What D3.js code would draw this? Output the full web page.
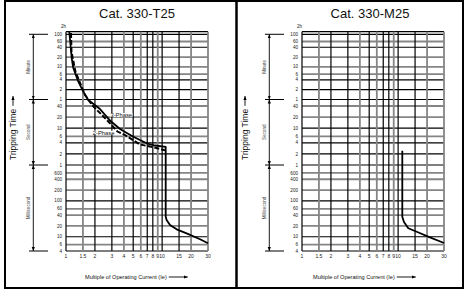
<!DOCTYPE html>
<html>
<head>
<meta charset="utf-8">
<script src="https://cdn.jsdelivr.net/npm/d3@7"></script>
<style>
  body { margin: 0; background: #fff; }
  svg { display: block; font-family: "Liberation Sans", Arial, sans-serif; }
</style>
</head>
<body>
<svg width="465" height="290"></svg>
<script>
var titles = ["Cat. 330-T25", "Cat. 330-M25"];

// multiple of operating current (Ie)
var xTicks = [1, 1.5, 2, 3, 4, 5, 6, 7, 8, 9, 10, 15, 20, 30];
var xTickLabels = ["1", "1.5", "2", "3", "4", "5", "6", "7", "8", "9", "10", "15", "20", "30"];
var xGray = [1.5, 4, 6, 9, 20, 30];

// tripping time, in seconds
var yTop = 7200, yTopLabel = "2h";
var yTicks = [6000, 3600, 2400, 1200, 600, 360, 240, 120, 60, 40, 20, 10, 6, 4, 2, 1,
              0.6, 0.4, 0.2, 0.1, 0.06, 0.04, 0.02, 0.01, 0.006, 0.004];
var yTickLabels = ["100", "60", "40", "20", "10", "6", "4", "2", "1", "40", "20", "10", "6", "4", "2", "1",
                   "600", "400", "200", "100", "60", "40", "20", "10", "6", "4"];
var yGray = [3600, 1200, 600, 360, 40, 20, 6, 0.6, 0.4, 0.2, 0.06, 0.04, 0.02, 0.006];

var sectionNames = ["Minute", "Second", "Millisecond"];
var sectionBounds = [6000, 60, 1, 0.004];

// Cat. 330-T25
var t25ThreeX = [1.082, 1.114, 1.146, 1.191, 1.343, 1.514, 1.706, 2.258, 2.905, 3.645, 5.01, 6.91, 8.42, 10.89,
                 10.89, 11.13, 12.08, 14.16, 17.98, 24.8, 30];
var t25ThreeY = [7200, 2813, 1124, 555, 211, 104, 58, 33, 15.6, 9.5, 5.86, 3.88, 3.38, 3.09,
                 0.0362, 0.0292, 0.0212, 0.0161, 0.01245, 0.00848, 0.00656];
var t25TwoX = [1.127, 1.141, 1.256, 1.432, 1.577, 1.887, 2.754, 3.43, 4.11, 5.89, 7.48, 10.46, 10.89];
var t25TwoY = [6568, 1718, 419, 166, 82, 41.2, 15.2, 8.1, 6.52, 3.6, 3.18, 2.55, 2.5];
var t25Labels = ["3-Phase", "2-Phase"];
var t25LabelX = [2.9, 1.9];
var t25LabelY = [22.7, 7.55];

// Cat. 330-M25
var m25X = [11.05, 11.05, 11.5, 12.76, 15.6, 21.4, 29.6, 30];
var m25Y = [2.44, 0.0362, 0.0257, 0.0172, 0.0138, 0.00964, 0.0068, 0.0067];

function pts(xs, ys) { return xs.map(function(d, i) { return [d, ys[i]]; }); }

var panels = [
  { title: titles[0], ox: 0, titleX: 137, tripX: 13, xTitleX: 85,
    solid: [pts(t25ThreeX, t25ThreeY)], dashed: [pts(t25TwoX, t25TwoY)],
    labels: t25Labels.map(function(d, i) { return { text: d, x: t25LabelX[i], y: t25LabelY[i] }; }) },
  { title: titles[1], ox: 236, titleX: 370, tripX: 245, xTitleX: 313,
    solid: [pts(m25X, m25Y)], dashed: [], labels: [] }
];

var svg = d3.select("svg");

svg.append("defs").append("marker")
    .attr("id", "ah")
    .attr("viewBox", "0 0 10 10")
    .attr("refX", 10).attr("refY", 5)
    .attr("markerWidth", 4).attr("markerHeight", 4)
    .attr("markerUnits", "userSpaceOnUse")
    .attr("orient", "auto-start-reverse")
  .append("path").attr("d", "M0,1L10,5L0,9Z").attr("fill", "#000");

// frame
svg.append("rect").attr("x", 5).attr("y", 1).attr("width", 458).attr("height", 287)
    .attr("fill", "none").attr("stroke", "#000").attr("stroke-width", 2);
svg.append("line").attr("x1", 236.5).attr("x2", 236.5).attr("y1", 1).attr("y2", 288)
    .attr("stroke", "#000").attr("stroke-width", 2.5);

panels.forEach(drawPanel);

function drawPanel(p) {
  var ox = p.ox;
  var g = svg.append("g");

  var x = d3.scaleLog().domain([1, 30]).range([66 + ox, 208 + ox]);
  // the printed time axis is log, but each unit band has its own spacing
  var y = d3.scaleLog().domain([yTop, 60, 1, 0.004]).range([31.7, 99.5, 165, 251]);

  g.append("text").attr("x", p.titleX).attr("y", 18).attr("text-anchor", "middle")
      .attr("font-size", 13).attr("fill", "#111").text(p.title);

  // grid
  g.selectAll(".hg").data([yTop].concat(yTicks)).enter().append("line")
      .attr("x1", x(1)).attr("x2", x(30))
      .attr("y1", function(d) { return y(d); }).attr("y2", function(d) { return y(d); })
      .attr("stroke", function(d) { return yGray.indexOf(d) >= 0 ? "#858585" : "#000"; })
      .attr("stroke-width", function(d) { return yGray.indexOf(d) >= 0 ? 1.8 : 1.2; });

  g.selectAll(".vg").data(xTicks).enter().append("line")
      .attr("y1", y(yTop)).attr("y2", y(0.004))
      .attr("x1", function(d) { return x(d); }).attr("x2", function(d) { return x(d); })
      .attr("stroke", function(d) { return xGray.indexOf(d) >= 0 ? "#858585" : "#000"; })
      .attr("stroke-width", function(d) { return xGray.indexOf(d) >= 0 ? 1.8 : 1.2; });

  // tick labels
  g.selectAll(".yl").data(yTicks).enter().append("text")
      .attr("x", x(1) - 4).attr("y", function(d) { return y(d) + 1.6; })
      .attr("text-anchor", "end").attr("font-size", 4.6).attr("fill", "#222")
      .text(function(d, i) { return yTickLabels[i]; });
  g.append("text").attr("x", x(1) - 2.5).attr("y", y(yTop) - 4)
      .attr("text-anchor", "middle").attr("font-size", 4.6).attr("fill", "#222").text(yTopLabel);

  g.selectAll(".xl").data(xTicks).enter().append("text")
      .attr("x", function(d) { return x(d); }).attr("y", 258)
      .attr("text-anchor", "middle").attr("font-size", 5).attr("fill", "#222")
      .text(function(d, i) { return xTickLabels[i]; });

  // unit brackets
  var bx = ox + 33.3;
  g.selectAll(".bt").data(sectionBounds).enter().append("line")
      .attr("x1", ox + 29).attr("x2", ox + 48)
      .attr("y1", function(d) { return y(d); }).attr("y2", function(d) { return y(d); })
      .attr("stroke", "#000").attr("stroke-width", 1);
  sectionNames.forEach(function(name, i) {
    var y0 = y(sectionBounds[i]), y1 = y(sectionBounds[i + 1]);
    g.append("line").attr("x1", bx).attr("x2", bx).attr("y1", y0).attr("y2", y1)
        .attr("stroke", "#000").attr("stroke-width", 0.9)
        .attr("marker-start", "url(#ah)").attr("marker-end", "url(#ah)");
    g.append("text")
        .attr("transform", "translate(" + (ox + 29.5) + "," + ((y0 + y1) / 2) + ") rotate(-90)")
        .attr("text-anchor", "middle").attr("font-size", 4.6).attr("fill", "#444").text(name);
  });

  // axis titles
  var tt = g.append("text")
      .attr("transform", "translate(" + (p.tripX + 3) + ",160) rotate(-90)")
      .attr("font-size", 8.5).attr("fill", "#111").text("Tripping Time");
  var tl = tt.node().getComputedTextLength();
  g.append("line").attr("x1", p.tripX).attr("x2", p.tripX)
      .attr("y1", 160 - tl - 3).attr("y2", 96)
      .attr("stroke", "#000").attr("stroke-width", 0.9).attr("marker-end", "url(#ah)");

  var xt = g.append("text").attr("x", p.xTitleX).attr("y", 279)
      .attr("font-size", 5.6).attr("fill", "#111").text("Multiple of Operating Current (Ie)");
  var xl = xt.node().getComputedTextLength();
  g.append("line").attr("x1", p.xTitleX + xl + 2).attr("x2", p.xTitleX + xl + 21)
      .attr("y1", 277).attr("y2", 277)
      .attr("stroke", "#000").attr("stroke-width", 0.9).attr("marker-end", "url(#ah)");

  // curves
  var line = d3.line().x(function(d) { return x(d[0]); }).y(function(d) { return y(d[1]); })
      .curve(d3.curveLinear);

  g.selectAll(".dc").data(p.dashed).enter().append("path")
      .attr("d", line).attr("fill", "none").attr("stroke", "#000")
      .attr("stroke-width", 2).attr("stroke-dasharray", "5,2");
  g.selectAll(".sc").data(p.solid).enter().append("path")
      .attr("d", line).attr("fill", "none").attr("stroke", "#000")
      .attr("stroke-width", 1.8).attr("stroke-linejoin", "round");

  p.labels.forEach(function(l) {
    var t = g.append("text").attr("x", x(l.x)).attr("y", y(l.y) + 2)
        .attr("font-size", 5.8).attr("fill", "#111").text(l.text);
    var bb = t.node().getBBox();
    g.insert("rect", function() { return t.node(); })
        .attr("x", bb.x - 0.3).attr("y", bb.y + 1).attr("width", bb.width + 0.6).attr("height", bb.height - 2)
        .attr("fill", "#fff");
  });
}
</script>
</body>
</html>
